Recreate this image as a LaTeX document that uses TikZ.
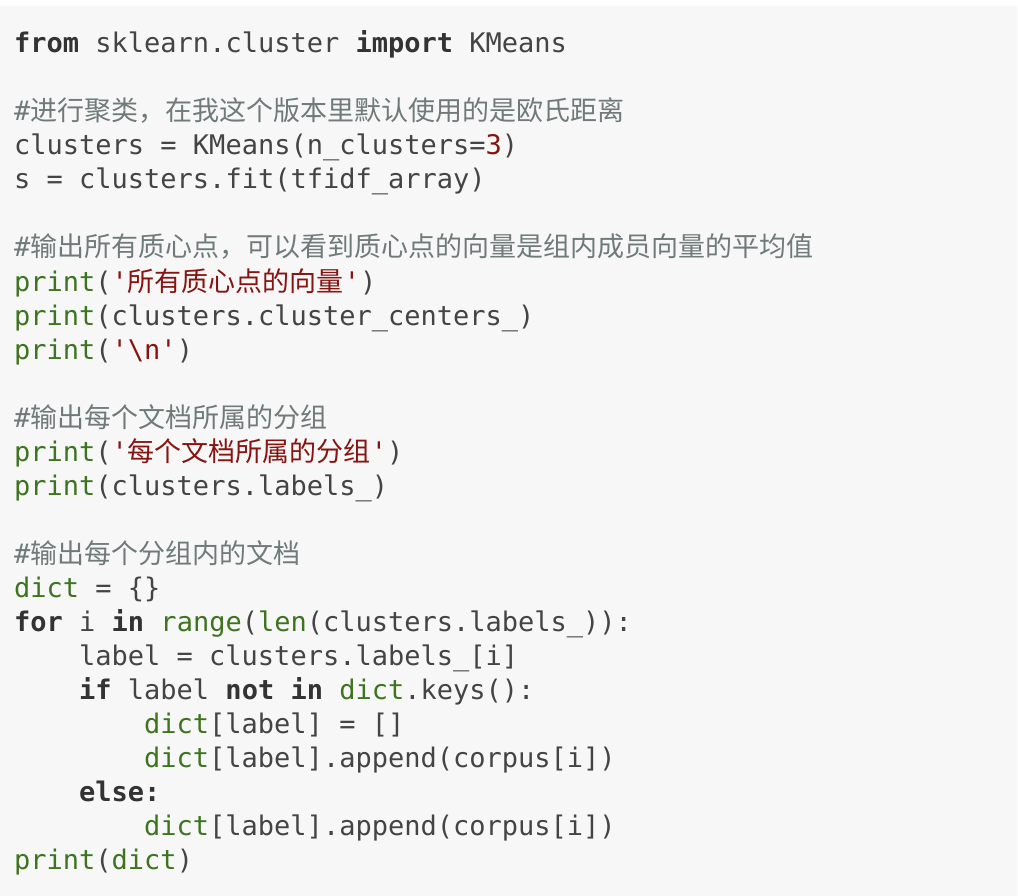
\documentclass[tikz,border=0pt]{standalone}
\usepackage{fontspec}
\newfontfamily\codefont{DejaVu Sans Mono}
\newfontfamily\cjk{Noto Sans CJK SC}
\definecolor{codebg}{HTML}{F7F7F7}
\definecolor{codetxt}{HTML}{444444}
\definecolor{codekw}{HTML}{333333}
\definecolor{codebi}{HTML}{3E7420}
\definecolor{codestr}{HTML}{861512}
\definecolor{codecm}{HTML}{707A7A}
\newcommand\kw[1]{{\bfseries\color{codekw}#1}}
\newcommand\bi[1]{{\color{codebi}#1}}
\newcommand\strg[1]{{\color{codestr}#1}}
\newcommand\cm[1]{{\color{codecm}#1}}
\begin{document}
\begin{tikzpicture}[x=1pt,y=-1pt,
  ln/.style={anchor=base west, inner sep=0pt, text=codetxt, font=\codefont\fontsize{27}{34}\selectfont}]
\useasboundingbox (0,0) rectangle (1018,896);
\fill[codebg] (0,6) rectangle (1017,896);
\node[ln] (ln1) at (14,53){\kw{from} sklearn.cluster \kw{import} KMeans};
\node[ln] (ln3) at (14,121){\cm{\#{\cjk 进行聚类，在我这个版本里默认使用的是欧氏距离}}};
\node[ln] (ln4) at (14,155){clusters = KMeans(n\_clusters=\strg{3})};
\node[ln] (ln5) at (14,189){s = clusters.fit(tfidf\_array)};
\node[ln] (ln7) at (14,257){\cm{\#{\cjk 输出所有质心点，可以看到质心点的向量是组内成员向量的平均值}}};
\node[ln] (ln8) at (14,291){\bi{print}(\strg{'{\cjk 所有质心点的向量}'})};
\node[ln] (ln9) at (14,325){\bi{print}(clusters.cluster\_centers\_)};
\node[ln] (ln10) at (14,359){\bi{print}(\strg{'\textbackslash n'})};
\node[ln] (ln12) at (14,427){\cm{\#{\cjk 输出每个文档所属的分组}}};
\node[ln] (ln13) at (14,461){\bi{print}(\strg{'{\cjk 每个文档所属的分组}'})};
\node[ln] (ln14) at (14,495){\bi{print}(clusters.labels\_)};
\node[ln] (ln16) at (14,563){\cm{\#{\cjk 输出每个分组内的文档}}};
\node[ln] (ln17) at (14,597){\bi{dict} = \{\}};
\node[ln] (ln18) at (14,631){\kw{for} i \kw{in} \bi{range}(\bi{len}(clusters.labels\_)):};
\node[ln] (ln19) at (79,665){label = clusters.labels\_[i]};
\node[ln] (ln20) at (79,699){\kw{if} label \kw{not} \kw{in} \bi{dict}.keys():};
\node[ln] (ln21) at (144,733){\bi{dict}[label] = []};
\node[ln] (ln22) at (144,767){\bi{dict}[label].append(corpus[i])};
\node[ln] (ln23) at (79,801){\kw{else:}};
\node[ln] (ln24) at (144,835){\bi{dict}[label].append(corpus[i])};
\node[ln] (ln25) at (14,869){\bi{print}(\bi{dict})};
\end{tikzpicture}
\end{document}
